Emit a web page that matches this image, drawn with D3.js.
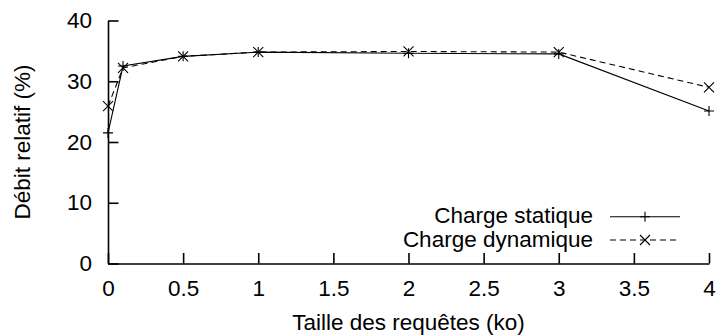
<!DOCTYPE html>
<html>
<head>
<meta charset="utf-8">
<script src="https://cdn.jsdelivr.net/npm/d3@7"></script>
<style>
  body { margin: 0; background: #fff; }
  text { font-family: "Liberation Sans", Arial, sans-serif; fill: #000; }
</style>
</head>
<body>
<svg id="chart" width="720" height="336"></svg>
<script>
// data
const sizes = [0, 0.1, 0.5, 1, 2, 3, 4];
const staticLoad = [21.5, 32.5, 34.1, 34.8, 34.6, 34.5, 25.1];
const dynamicLoad = [25.9, 32.2, 34.1, 34.8, 34.9, 34.8, 29.0];
const xTicks = [0, 0.5, 1, 1.5, 2, 2.5, 3, 3.5, 4];
const yTicks = [0, 10, 20, 30, 40];
const seriesNames = ["Charge statique", "Charge dynamique"];

const plotLeft = 108, plotRight = 709, plotTop = 20.5, plotBottom = 263.5;
const tickLen = 10.5;
const fontSize = 22.5;

const svg = d3.select("#chart");

const x = d3.scaleLinear().domain([0, 4]).range([plotLeft, plotRight]);
const y = d3.scaleLinear().domain([0, 40]).range([plotBottom, plotTop]);

// axes: ticks drawn inward like gnuplot
const xAxis = svg.append("g")
    .attr("transform", `translate(0,${plotBottom})`)
    .call(d3.axisBottom(x).tickValues(xTicks).tickSizeInner(-tickLen).tickSizeOuter(0)
        .tickPadding(17).tickFormat(d3.format("")));
const yAxis = svg.append("g")
    .attr("transform", `translate(${plotLeft},0)`)
    .call(d3.axisLeft(y).tickValues(yTicks).tickSizeInner(-tickLen).tickSizeOuter(0)
        .tickPadding(16));

[xAxis, yAxis].forEach(g => {
    g.select(".domain").attr("stroke", "#000").attr("stroke-width", 1.6);
    g.selectAll(".tick line").attr("stroke", "#000").attr("stroke-width", 1.6);
    g.selectAll(".tick text")
        .attr("font-size", fontSize)
        .attr("font-family", "Liberation Sans, Arial, sans-serif")
        .attr("fill", "#000");
});

// axis titles
svg.append("text")
    .attr("x", (plotLeft + plotRight) / 2)
    .attr("y", 329.5)
    .attr("text-anchor", "middle")
    .attr("font-size", fontSize)
    .text("Taille des requêtes (ko)");

svg.append("text")
    .attr("transform", `translate(30,${(plotTop + plotBottom) / 2}) rotate(-90)`)
    .attr("text-anchor", "middle")
    .attr("font-size", fontSize)
    .text("Débit relatif (%)");

// lines
const line = d3.line().x(d => x(d[0])).y(d => y(d[1]));
const staticPts = sizes.map((s, i) => [s, staticLoad[i]]);
const dynamicPts = sizes.map((s, i) => [s, dynamicLoad[i]]);

svg.append("path")
    .datum(staticPts)
    .attr("d", line)
    .attr("fill", "none")
    .attr("stroke", "#000")
    .attr("stroke-width", 1.1);

svg.append("path")
    .datum(dynamicPts)
    .attr("d", line)
    .attr("fill", "none")
    .attr("stroke", "#000")
    .attr("stroke-width", 1.1)
    .attr("stroke-dasharray", "6,4");

// markers
function plus(g, cx, cy, r) {
    g.append("path")
        .attr("d", `M${cx - r},${cy}H${cx + r}M${cx},${cy - r}V${cy + r}`)
        .attr("stroke", "#000").attr("stroke-width", 1.1).attr("fill", "none");
}
function cross(g, cx, cy, r) {
    g.append("path")
        .attr("d", `M${cx - r},${cy - r}L${cx + r},${cy + r}M${cx - r},${cy + r}L${cx + r},${cy - r}`)
        .attr("stroke", "#000").attr("stroke-width", 1.1).attr("fill", "none");
}

const marks = svg.append("g");
staticPts.forEach(d => plus(marks, x(d[0]), y(d[1]), 5));
dynamicPts.forEach(d => cross(marks, x(d[0]), y(d[1]), 5));

// legend
const legend = svg.append("g");
const legendRows = [216.7, 240];
seriesNames.forEach((name, i) => {
    const ly = legendRows[i];
    legend.append("text")
        .attr("x", 593)
        .attr("y", ly + 6.7)
        .attr("text-anchor", "end")
        .attr("font-size", fontSize)
        .text(name);
    legend.append("line")
        .attr("x1", 610).attr("x2", 680)
        .attr("y1", ly).attr("y2", ly)
        .attr("stroke", "#000")
        .attr("stroke-width", 1.1)
        .attr("stroke-dasharray", i === 1 ? "6,4" : null);
    if (i === 0) plus(legend, 645, ly, 5);
    else cross(legend, 645, ly, 5);
});
</script>
</body>
</html>
